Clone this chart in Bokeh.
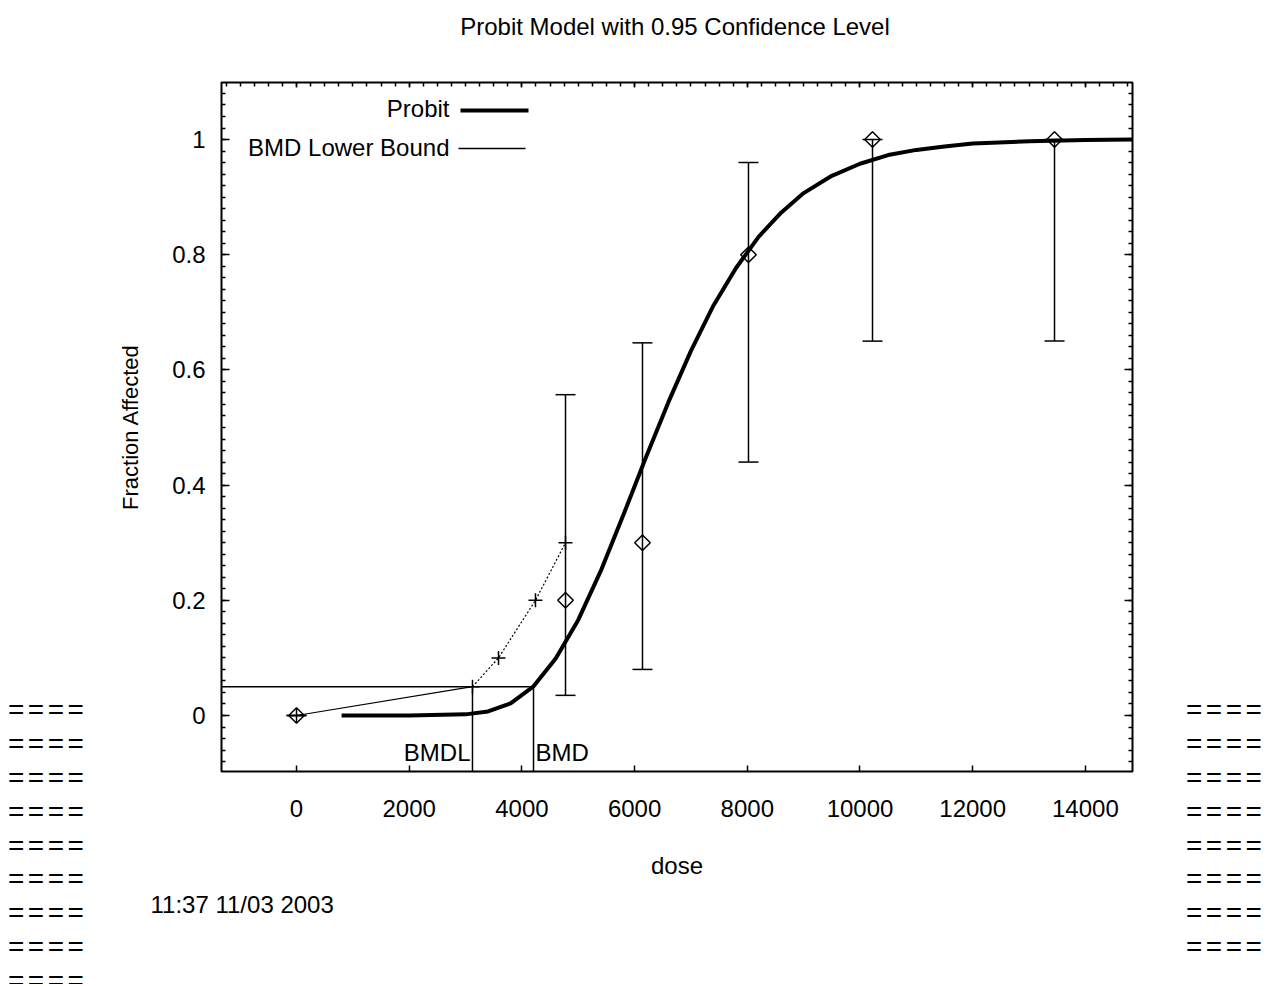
import numpy as np
from bokeh.plotting import figure
from bokeh.layouts import row, column
from bokeh.models import (Range1d, LinearAxis, Label, Whisker, ColumnDataSource, TeeHead,
                          FixedTicker, SingleIntervalTicker, CustomJSTickFormatter, Title, Div)
from bokeh.embed import file_html
from bokeh.resources import INLINE

# ---------------- data ----------------
probit_dose = [800, 2000, 3000, 3400, 3800, 4200, 4600, 5000, 5400, 5800, 6200, 6600, 7000,
               7400, 7800, 8200, 8600, 9000, 9500, 10000, 10500, 11000, 11500, 12000, 13000,
               14000, 14840]
probit_frac = [0.0, 0.0, 0.002, 0.007, 0.021, 0.05, 0.099, 0.166, 0.251, 0.348, 0.448, 0.544,
               0.633, 0.712, 0.777, 0.831, 0.873, 0.907, 0.937, 0.958, 0.973, 0.982, 0.988,
               0.993, 0.997, 0.999, 1.0]

obs_dose = [0, 4774, 6140, 8021, 10222, 13452]
obs_frac = [0.0, 0.2, 0.3, 0.8, 1.0, 1.0]
obs_lower = [0.0, 0.035, 0.08, 0.44, 0.65, 0.65]
obs_upper = [0.0, 0.557, 0.647, 0.96, 1.0, 1.0]

lb_dose = [0, 3123, 3585, 4241, 4774]
lb_frac = [0.0, 0.05, 0.10, 0.20, 0.30]

bmd = 4206
bmdl = 3123
bmr_level = 0.05

x_ticks = [0, 2000, 4000, 6000, 8000, 10000, 12000, 14000]

title_text = "Probit Model with 0.95 Confidence Level"
x_label = "dose"
y_label = "Fraction Affected"
legend_labels = ["Probit", "BMD Lower Bound"]
date_text = "11:37 11/03 2003"
deco_text = "===="
deco_rows_left = 9
deco_rows_right = 8

# ---------------- layout ----------------
PAGE_W = 1268
TITLE_H = 50
LEFT_W, RIGHT_W = 100, 98
W, H = 1070, 984 - TITLE_H
FRAME_L, FRAME_R, FRAME_T, FRAME_B = 221, 1132, 82, 771   # page pixels
FL = FRAME_L - LEFT_W
FR = LEFT_W + W - FRAME_R
FT = FRAME_T - TITLE_H
FB = TITLE_H + H - FRAME_B
XR = (-1331, 14836)
YR = (-0.0972, 1.099)


def dx(px):
    return XR[0] + (px - FRAME_L) * (XR[1] - XR[0]) / (FRAME_R - FRAME_L)


def dy(py):
    return YR[1] - (py - FRAME_T) * (YR[1] - YR[0]) / (FRAME_B - FRAME_T)


FONT = "Liberation Sans"
FS = "24px"

p = figure(width=W, height=H, output_backend="svg", toolbar_location=None,
           x_range=Range1d(*XR), y_range=Range1d(*YR),
           min_border_left=FL, min_border_right=FR, min_border_top=FT, min_border_bottom=FB,
           background_fill_color="white", border_fill_color="white", margin=0)
p.xgrid.visible = False
p.ygrid.visible = False
p.outline_line_color = "black"
p.outline_line_width = 2
p.outline_line_alpha = 1

# bottom axis
xa = p.xaxis[0]
xa.ticker = FixedTicker(ticks=x_ticks, minor_ticks=[])
xa.axis_line_color = None
xa.major_tick_in = 6
xa.major_tick_out = 0
xa.major_tick_line_width = 1.5
xa.minor_tick_line_color = None
xa.major_label_standoff = 28
xa.major_label_text_font = FONT
xa.major_label_text_font_size = FS
xa.major_label_text_color = "black"
xa.axis_label = x_label
xa.axis_label_text_font = FONT
xa.axis_label_text_font_size = FS
xa.axis_label_text_font_style = "normal"
xa.axis_label_text_color = "black"
xa.axis_label_standoff = 32

# left axis
ya = p.yaxis[0]
ya.ticker = SingleIntervalTicker(interval=0.2, num_minor_ticks=10)
ya.formatter = CustomJSTickFormatter(code="return tick.toFixed(1).replace(/\\.0$/, '');")
ya.axis_line_color = None
ya.major_tick_in = 8
ya.major_tick_out = 0
ya.major_tick_line_width = 1.5
ya.minor_tick_in = 4
ya.minor_tick_out = 0
ya.minor_tick_line_width = 1.5
ya.major_label_standoff = 16
ya.major_label_text_font = FONT
ya.major_label_text_font_size = FS
ya.major_label_text_color = "black"
ya.axis_label = y_label
ya.axis_label_text_font = FONT
ya.axis_label_text_font_size = "22px"
ya.axis_label_text_font_style = "normal"
ya.axis_label_text_color = "black"
ya.axis_label_standoff = 26

# right and top mirror axes (ticks only, no labels)
blank = CustomJSTickFormatter(code="return '';")
ra = LinearAxis(ticker=SingleIntervalTicker(interval=0.2, num_minor_ticks=10), formatter=blank,
                axis_line_color=None, major_tick_in=8, major_tick_out=0, minor_tick_in=4,
                minor_tick_out=0, major_tick_line_width=1.5, minor_tick_line_width=1.5,
                major_label_text_color=None, major_label_text_font_size="1px",
                major_label_standoff=0)
p.add_layout(ra, "right")
ta = LinearAxis(ticker=SingleIntervalTicker(interval=2000, num_minor_ticks=8), formatter=blank,
                axis_line_color=None, major_tick_in=5, major_tick_out=0, minor_tick_in=4,
                minor_tick_out=0, major_tick_line_width=1.5, minor_tick_line_width=1.5,
                major_label_text_color=None, major_label_text_font_size="1px",
                major_label_standoff=0)
p.add_layout(ta, "above")

# date stamp below the dose label
p.add_layout(Title(text=date_text, align="left", vertical_align="top", offset=150 - FRAME_L,
                   text_font=FONT, text_font_size=FS, text_font_style="normal",
                   text_color="black", standoff=18), "below")

# ---------------- marks ----------------
p.line(probit_dose, probit_frac, line_color="black", line_width=4)

p.segment(x0=[XR[0]], y0=[bmr_level], x1=[bmd], y1=[bmr_level], line_color="black", line_width=1.5)
p.segment(x0=[bmdl, bmd], y0=[bmr_level, bmr_level], x1=[bmdl, bmd], y1=[YR[0], YR[0]],
          line_color="black", line_width=1.5)

p.line(lb_dose[:2], lb_frac[:2], line_color="black", line_width=1.2)
p.line(lb_dose[1:], lb_frac[1:], line_color="black", line_width=1.2, line_dash="2 2")
p.scatter(lb_dose, lb_frac, marker="cross", size=14, line_color="black", line_width=1.5)

src = ColumnDataSource(dict(dose=obs_dose, frac=obs_frac, lower=obs_lower, upper=obs_upper))
wh = Whisker(base="dose", lower="lower", upper="upper", source=src, dimension="height",
             line_color="black", line_width=1.5,
             upper_head=TeeHead(size=20, line_color="black", line_width=1.5),
             lower_head=TeeHead(size=20, line_color="black", line_width=1.5))
p.add_layout(wh)
p.scatter("dose", "frac", source=src, marker="square", angle=np.pi / 4, size=11,
          fill_color=None, line_color="black", line_width=1.5)

p.add_layout(Label(x=bmdl, y=dy(752), text="BMDL", text_align="right", text_baseline="middle",
                   x_offset=-2, text_font=FONT, text_font_size=FS, text_color="black"))
p.add_layout(Label(x=bmd, y=dy(752), text="BMD", text_align="left", text_baseline="middle",
                   x_offset=2, text_font=FONT, text_font_size=FS, text_color="black"))

# legend: label on the left, sample line on the right
p.add_layout(Label(x=dx(449), y=dy(108), text=legend_labels[0], text_align="right",
                   text_baseline="middle", text_font=FONT, text_font_size=FS, text_color="black"))
p.add_layout(Label(x=dx(449), y=dy(147), text=legend_labels[1], text_align="right",
                   text_baseline="middle", text_font=FONT, text_font_size=FS, text_color="black"))
p.segment(x0=[dx(460)], y0=[dy(110)], x1=[dx(528)], y1=[dy(110)], line_color="black", line_width=4)
p.segment(x0=[dx(458)], y0=[dy(148)], x1=[dx(525)], y1=[dy(148)], line_color="black", line_width=1.5)

# ---------------- title strip ----------------
TITLE_CENTER_X, TITLE_CENTER_Y = 675, 27
title_html = ('<div style="font-family:\'Liberation Sans\'; font-size:24px; line-height:30px; '
              'color:black; white-space:nowrap; text-align:center; width:%dpx; margin:%dpx 0 0 0;">'
              '%s</div>' % (2 * TITLE_CENTER_X, TITLE_CENTER_Y - 15, title_text))
title_div = Div(text=title_html, width=PAGE_W, height=TITLE_H, margin=0,
                styles={"overflow": "hidden", "background-color": "white"})

# ---------------- side decorations ----------------
LINE_H = 33.86
FIRST_ROW = 710 - TITLE_H
deco_style = ("font-family:'Liberation Sans'; font-size:28px; letter-spacing:3.5px; "
              "line-height:%.2fpx; color:black; padding:0; white-space:pre; text-align:left;" % LINE_H)
left_html = ('<div style="%s margin:%.1fpx 0 0 8px;">%s</div>'
             % (deco_style, FIRST_ROW - LINE_H / 2, "<br>".join([deco_text] * deco_rows_left)))
right_html = ('<div style="%s margin:%.1fpx 0 0 16px;">%s</div>'
              % (deco_style, FIRST_ROW - LINE_H / 2, "<br>".join([deco_text] * deco_rows_right)))
left_div = Div(text=left_html, width=LEFT_W, height=H, margin=0,
               styles={"overflow": "hidden", "background-color": "white"})
right_div = Div(text=right_html, width=RIGHT_W, height=H, margin=0,
                styles={"overflow": "hidden", "background-color": "white"})

layout = column(title_div, row(left_div, p, right_div, spacing=0, margin=0), spacing=0, margin=0)

open("out.html", "w").write(file_html(layout, INLINE))
